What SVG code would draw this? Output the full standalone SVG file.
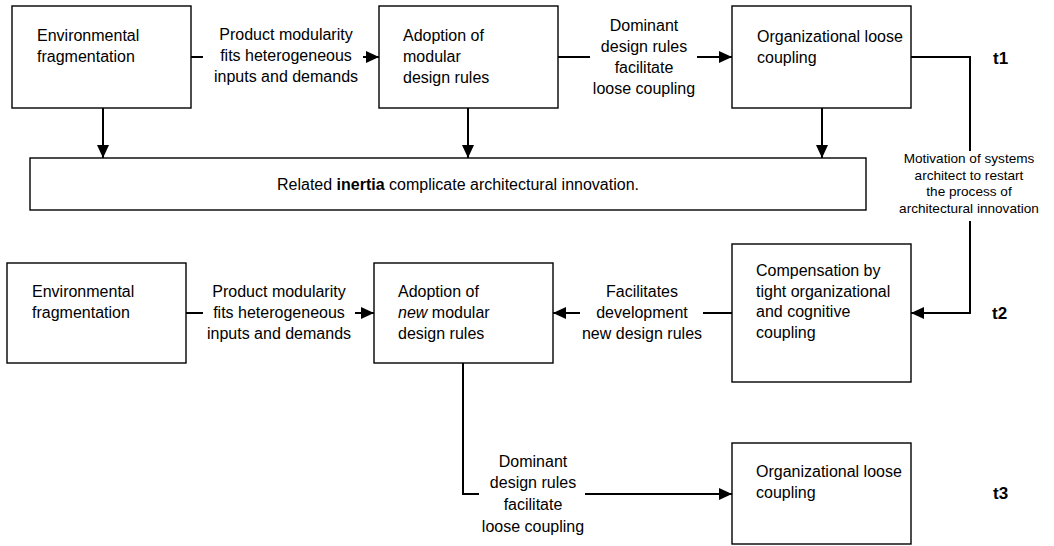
<svg xmlns="http://www.w3.org/2000/svg" width="1054" height="546" viewBox="0 0 1054 546">
<style>
text{font-family:"Liberation Sans",Arial,sans-serif;font-size:16px;fill:#000}
.c{text-anchor:middle}
.s{font-size:13.6px}
.t{font-weight:bold;font-size:17px}
.box{fill:#fff;stroke:#000;stroke-width:1.4}
.ln{fill:none;stroke:#000;stroke-width:2}
</style>
<defs>
<marker id="ah" markerUnits="userSpaceOnUse" markerWidth="14" markerHeight="14" viewBox="0 0 14 14" refX="13" refY="7" orient="auto">
<path d="M0,1 L13,7 L0,13 Z" fill="#000"/>
</marker>
</defs>
<g id="connectors">
<path class="ln" d="M191,57 H203 M363,57 H379" marker-end="url(#ah)"/>
<path class="ln" d="M558,57 H590 M697,57 H732" marker-end="url(#ah)"/>
<path class="ln" d="M103,108 V158" marker-end="url(#ah)"/>
<path class="ln" d="M468,108 V158" marker-end="url(#ah)"/>
<path class="ln" d="M822,108 V158" marker-end="url(#ah)"/>
<path class="ln" d="M911,57 H970 V151"/>
<path class="ln" d="M970,221 V313 H911" marker-end="url(#ah)"/>
<path class="ln" d="M186,313 H203 M355,313 H374" marker-end="url(#ah)"/>
<path class="ln" d="M732,313 H703"/>
<path class="ln" d="M580,313 H553" marker-end="url(#ah)"/>
<path class="ln" d="M463,363 V494 H479"/>
<path class="ln" d="M585,494 H732" marker-end="url(#ah)"/>
<text class="c" x="286" y="40">Product modularity</text>
<text class="c" x="286" y="61">fits heterogeneous</text>
<text class="c" x="286" y="82">inputs and demands</text>
<text class="c" x="644" y="31">Dominant</text>
<text class="c" x="644" y="52">design rules</text>
<text class="c" x="644" y="73">facilitate</text>
<text class="c" x="644" y="94">loose coupling</text>
<text class="c s" x="969" y="163">Motivation of systems</text>
<text class="c s" x="969" y="180">architect to restart</text>
<text class="c s" x="969" y="196">the process of</text>
<text class="c s" x="969" y="213">architectural innovation</text>
<text class="c" x="279" y="297">Product modularity</text>
<text class="c" x="279" y="318">fits heterogeneous</text>
<text class="c" x="279" y="339">inputs and demands</text>
<text class="c" x="642" y="297">Facilitates</text>
<text class="c" x="642" y="318">development</text>
<text class="c" x="642" y="339">new design rules</text>
<text class="c" x="533" y="467">Dominant</text>
<text class="c" x="533" y="488">design rules</text>
<text class="c" x="533" y="510">facilitate</text>
<text class="c" x="533" y="532">loose coupling</text>
</g>
<g id="env1">
<rect class="box" x="12" y="6" width="179" height="102"/>
<text x="37" y="41">Environmental</text>
<text x="37" y="62">fragmentation</text>
</g>
<g id="adopt1">
<rect class="box" x="379" y="6" width="179" height="102"/>
<text x="403" y="41">Adoption of</text>
<text x="403" y="62">modular</text>
<text x="403" y="83">design rules</text>
</g>
<g id="org1">
<rect class="box" x="732" y="6" width="179" height="102"/>
<text x="757" y="42">Organizational loose</text>
<text x="757" y="63">coupling</text>
</g>
<g id="inertia">
<rect class="box" x="30" y="158" width="836" height="52"/>
<text class="c" x="458" y="190">Related <tspan font-weight="bold">inertia</tspan> complicate architectural innovation.</text>
</g>
<g id="env2">
<rect class="box" x="7" y="263" width="179" height="100"/>
<text x="32" y="297">Environmental</text>
<text x="32" y="318">fragmentation</text>
</g>
<g id="adopt2">
<rect class="box" x="374" y="263" width="179" height="100"/>
<text x="398" y="297">Adoption of</text>
<text x="398" y="318"><tspan font-style="italic">new</tspan> modular</text>
<text x="398" y="339">design rules</text>
</g>
<g id="comp">
<rect class="box" x="732" y="244" width="179" height="138"/>
<text x="756" y="276">Compensation by</text>
<text x="756" y="297">tight organizational</text>
<text x="756" y="317">and cognitive</text>
<text x="756" y="338">coupling</text>
</g>
<g id="org3">
<rect class="box" x="732" y="443" width="179" height="101"/>
<text x="756" y="477">Organizational loose</text>
<text x="756" y="498">coupling</text>
</g>
<g id="labels">
<text class="t" x="993" y="64">t1</text>
<text class="t" x="992" y="319">t2</text>
<text class="t" x="993" y="499">t3</text>
</g>
</svg>
